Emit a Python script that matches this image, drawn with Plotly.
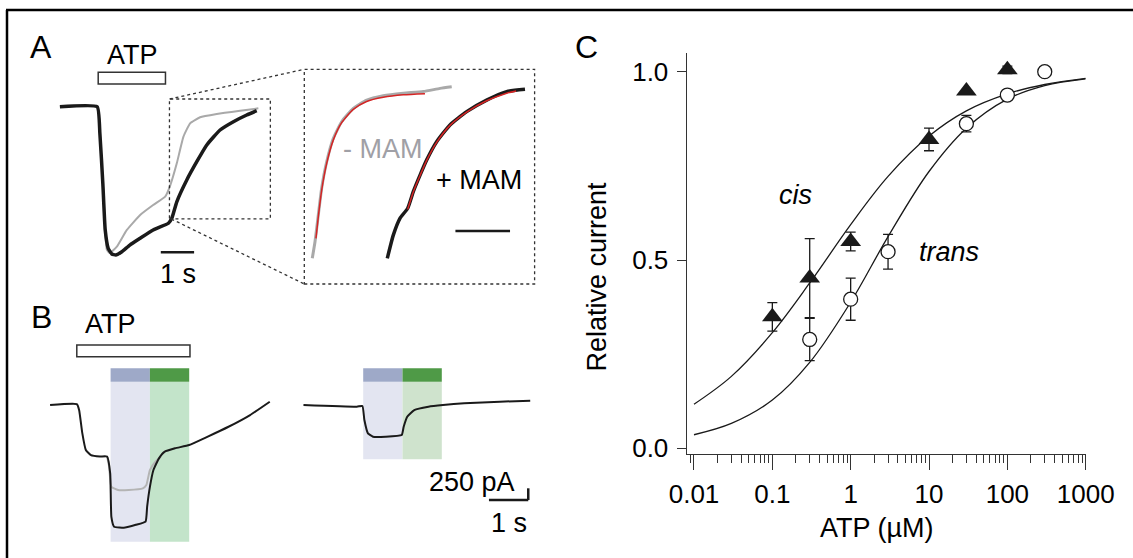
import plotly.graph_objects as go

W, H = 1133, 558
FONT = "Liberation Sans, Arial, Helvetica, sans-serif"

# ---- panel A: whole trace (time in s, current normalised to peak) ----
a_t_mam = [-1.15, -0.03, 0.05, 0.14, 0.21, 0.30, 0.41, 0.53, 0.71, 0.95, 1.26,
           1.65, 2.11, 2.21, 2.36, 2.66, 2.96, 3.26, 3.66, 4.06, 4.46, 4.76]
a_i_mam = [0, 0, -0.18, -0.52, -0.83, -0.955, -0.993, -1.0, -0.978, -0.933, -0.887,
           -0.831, -0.786, -0.753, -0.641, -0.494, -0.371, -0.258, -0.157, -0.101, -0.056, -0.027]
a_t_ctrl = [-1.15, -0.03, 0.05, 0.14, 0.21, 0.26, 0.35, 0.56, 0.86, 1.26, 1.65,
            2.01, 2.15, 2.36, 2.56, 2.76, 3.06, 3.56, 4.26, 4.81]
a_i_ctrl = [0, 0, -0.18, -0.52, -0.83, -0.966, -0.987, -0.944, -0.831, -0.730, -0.663,
            -0.607, -0.539, -0.382, -0.202, -0.112, -0.071, -0.049, -0.027, -0.011]

# ---- panel A inset: deactivation phase with exponential fits ----
i_t_ctrl = [0.073, 0.098, 0.128, 0.159, 0.205, 0.266, 0.342, 0.449, 0.571, 0.723, 0.907, 1.090, 1.243, 1.350]
i_i_ctrl = [-0.758, -0.686, -0.570, -0.453, -0.338, -0.236, -0.164, -0.106, -0.070, -0.051, -0.040, -0.033, -0.019, -0.012]
i_t_fit_ctrl = [0.107, 0.128, 0.159, 0.205, 0.266, 0.342, 0.449, 0.571, 0.723, 0.907, 1.105]
i_i_fit_ctrl = [-0.671, -0.578, -0.462, -0.345, -0.243, -0.168, -0.110, -0.076, -0.058, -0.047, -0.042]
i_t_mam = [0.760, 0.815, 0.876, 0.947, 0.998, 1.060, 1.121, 1.212, 1.334, 1.487, 1.670, 1.853, 2.021]
i_i_mam = [-0.758, -0.657, -0.584, -0.540, -0.468, -0.396, -0.330, -0.251, -0.178, -0.120, -0.070, -0.033, -0.023]
i_t_fit_mam = [0.947, 0.998, 1.060, 1.121, 1.212, 1.334, 1.487, 1.670, 1.853, 1.940]
i_i_fit_mam = [-0.545, -0.470, -0.398, -0.332, -0.254, -0.180, -0.122, -0.073, -0.040, -0.030]

# ---- panel B (time in s, current in pA) ----
b_t_mam = [-0.68, 0, 0.06, 0.14, 0.23, 0.36, 0.59, 0.77, 0.85, 0.88, 0.95, 1.23, 1.50,
           1.75, 1.79, 1.86, 1.95, 2.09, 2.23, 2.50, 2.86, 3.32, 3.86, 4.41, 4.91]
b_i_mam = [0, 20, -110, -600, -960, -1070, -1100, -1100, -1460, -2390, -2600, -2620, -2560,
           -2490, -2170, -1750, -1390, -1140, -1000, -925, -855, -680, -465, -215, 70]
b_t_ctrl = [0.77, 0.82, 0.88, 1.05, 1.32, 1.68, 1.77, 1.86, 2.0, 2.14]
b_i_ctrl = [-1100, -1300, -1750, -1815, -1815, -1780, -1710, -1390, -1210, -1105]
b2_t = [-1.52, -0.16, -0.02, 0.03, 0.12, 0.25, 0.57, 0.98, 1.03, 1.12, 1.30, 1.66, 2.03, 2.57, 3.48, 4.25]
b2_i = [0, -36, -21, -321, -605, -677, -677, -641, -464, -250, -107, -36, 0, 36, 71, 92]
b_windows = [(0.86, 1.86), (1.86, 2.86)]
b2_windows = [(0, 1), (1, 2)]

# ---- panel C: concentration-response ----
cis_x = [0.1, 0.3, 1, 10, 30, 100]
cis_y = [0.349, 0.452, 0.549, 0.820, 0.949, 1.005]
cis_err = [0.038, 0.105, 0.025, 0.030, 0.0, 0.010]
trans_x = [0.3, 1, 3, 30, 100, 300]
trans_y = [0.289, 0.396, 0.522, 0.862, 0.938, 1.0]
trans_err = [0.056, 0.056, 0.046, 0.022, 0.0, 0.0]
fit_x = [0.01, 0.03, 0.1, 0.3, 1, 3, 10, 30, 100, 300, 1000]
cis_fit = [0.117, 0.191, 0.307, 0.439, 0.594, 0.722, 0.829, 0.896, 0.941, 0.966, 0.982]
trans_fit = [0.036, 0.066, 0.128, 0.228, 0.388, 0.562, 0.735, 0.850, 0.927, 0.963, 0.981]


def fx(px):
    return px / W


def fy(py):
    return 1 - py / H


def xr(p0, p1, origin, ppu):
    return [(p0 - origin) / ppu, (p1 - origin) / ppu]


def yr(top, bottom, origin, ppu):
    return [-(bottom - origin) / ppu, -(top - origin) / ppu]


fig = go.Figure()
BLACK, GREY, RED = "#1a1a1a", "#a9a9a9", "#d42424"

# A main
fig.add_trace(go.Scatter(x=a_t_ctrl, y=a_i_ctrl, xaxis="x2", yaxis="y2", mode="lines",
                         line=dict(color=GREY, width=2, shape="spline", smoothing=0.4)))
fig.add_trace(go.Scatter(x=a_t_mam, y=a_i_mam, xaxis="x2", yaxis="y2", mode="lines",
                         line=dict(color=BLACK, width=3.5, shape="spline", smoothing=0.4)))
# A inset
fig.add_trace(go.Scatter(x=i_t_ctrl, y=i_i_ctrl, xaxis="x3", yaxis="y3", mode="lines",
                         line=dict(color=GREY, width=3, shape="spline", smoothing=0.5)))
fig.add_trace(go.Scatter(x=i_t_fit_ctrl, y=i_i_fit_ctrl, xaxis="x3", yaxis="y3", mode="lines",
                         line=dict(color=RED, width=1.5, shape="spline", smoothing=0.6)))
fig.add_trace(go.Scatter(x=i_t_mam, y=i_i_mam, xaxis="x3", yaxis="y3", mode="lines",
                         line=dict(color=BLACK, width=3.5, shape="spline", smoothing=0.5)))
fig.add_trace(go.Scatter(x=i_t_fit_mam, y=i_i_fit_mam, xaxis="x3", yaxis="y3", mode="lines",
                         line=dict(color=RED, width=1.5, shape="spline", smoothing=0.6)))
# B
fig.add_trace(go.Scatter(x=b_t_ctrl, y=b_i_ctrl, xaxis="x4", yaxis="y4", mode="lines",
                         line=dict(color="#b4b4b4", width=2, shape="spline", smoothing=0.4)))
fig.add_trace(go.Scatter(x=b_t_mam, y=b_i_mam, xaxis="x4", yaxis="y4", mode="lines",
                         line=dict(color=BLACK, width=2, shape="spline", smoothing=0.4)))
fig.add_trace(go.Scatter(x=b2_t, y=b2_i, xaxis="x5", yaxis="y5", mode="lines",
                         line=dict(color=BLACK, width=2, shape="spline", smoothing=0.4)))

# C
fig.add_trace(go.Scatter(x=fit_x, y=cis_fit, mode="lines",
                         line=dict(color=BLACK, width=1.3, shape="spline")))
fig.add_trace(go.Scatter(x=fit_x, y=trans_fit, mode="lines",
                         line=dict(color=BLACK, width=1.3, shape="spline")))
fig.add_trace(go.Scatter(x=cis_x, y=cis_y, mode="markers",
                         marker=dict(symbol="triangle-up", size=18, color=BLACK),
                         error_y=dict(type="data", array=cis_err, width=5, thickness=1.3, color=BLACK)))
fig.add_trace(go.Scatter(x=trans_x, y=trans_y, mode="markers",
                         marker=dict(symbol="circle", size=14, color="white",
                                     line=dict(color=BLACK, width=1.3)),
                         error_y=dict(type="data", array=trans_err, width=5, thickness=1.3, color=BLACK)))

hidden = dict(visible=False, fixedrange=True)
tickfont = dict(family=FONT, size=26, color="black")
fig.update_layout(
    width=W, height=H, autosize=False, showlegend=False,
    margin=dict(l=0, r=0, t=0, b=0),
    paper_bgcolor="white", plot_bgcolor="rgba(0,0,0,0)",
    font=dict(family=FONT, size=27, color="black"),
    xaxis=dict(type="log", domain=[fx(686.7), fx(1085.7)], range=[-2.093, 3.0],
               showline=True, linecolor="#333", linewidth=1.3, showgrid=False, zeroline=False,
               ticks="outside", ticklen=15, tickwidth=1.3, tickcolor="#333",
               tickmode="linear", tick0=0, dtick=1, exponentformat="none",
               tickfont=tickfont, ticklabelstandoff=1, automargin=False,
               minor=dict(ticks="outside", ticklen=8, tickwidth=1.3, tickcolor="#333",
                          dtick="D1", showgrid=False),
               anchor="y"),
    yaxis=dict(domain=[fy(454.3), fy(52.7)], range=[-0.0159, 1.0504],
               showline=True, linecolor="#333", linewidth=1.3, showgrid=False, zeroline=False,
               ticks="outside", ticklen=9, tickwidth=1.3, tickcolor="#333",
               tickvals=[0, 0.5, 1.0], tickformat=".1f", tickfont=tickfont,
               ticklabelstandoff=3, automargin=False, anchor="x"),
    xaxis2=dict(domain=[fx(30), fx(300)], range=xr(30, 300, 98.2, 33.3), anchor="y2", **hidden),
    yaxis2=dict(domain=[fy(300), fy(60)], range=yr(60, 300, 106.7, 148.3), anchor="x2", **hidden),
    xaxis3=dict(domain=[fx(300), fx(540)], range=xr(300, 540, 304.3, 109.2), anchor="y3", **hidden),
    yaxis3=dict(domain=[fy(300), fy(60)], range=yr(60, 300, 84, 230), anchor="x3", **hidden),
    xaxis4=dict(domain=[fx(40), fx(300)], range=xr(40, 300, 76.8, 39.3), anchor="y4", **hidden),
    yaxis4=dict(domain=[fy(550), fy(360)], range=yr(360, 550, 405, 0.0468), anchor="x4", **hidden),
    xaxis5=dict(domain=[fx(290), fx(545)], range=xr(290, 545, 363.2, 39.3), anchor="y5", **hidden),
    yaxis5=dict(domain=[fy(550), fy(360)], range=yr(360, 550, 405, 0.0468), anchor="x5", **hidden),
)

shapes = []
# frame (top and left rules)
shapes.append(dict(type="line", xref="paper", yref="paper", x0=fx(6), x1=1, y0=fy(10), y1=fy(10),
                   line=dict(color="black", width=2.5)))
shapes.append(dict(type="line", xref="paper", yref="paper", x0=fx(7), x1=fx(7), y0=fy(10), y1=0,
                   line=dict(color="black", width=2.5)))

# B colour windows (drawn below traces)
for (w0, w1), top, pale in zip(b_windows, ["#9ea9c8", "#4f9a47"], ["#e3e5f1", "#c3e4ca"]):
    shapes.append(dict(type="rect", xref="x4", yref="y4", x0=w0, x1=w1, y0=-2921, y1=498,
                       fillcolor=pale, line=dict(width=0), layer="below"))
    shapes.append(dict(type="rect", xref="x4", yref="y4", x0=w0, x1=w1, y0=498, y1=784,
                       fillcolor=top, line=dict(width=0), layer="below"))
for (w0, w1), top, pale in zip(b2_windows, ["#9ea9c8", "#4f9a47"], ["#e3e5f1", "#cfe3cd"]):
    shapes.append(dict(type="rect", xref="x5", yref="y5", x0=w0, x1=w1, y0=-1160, y1=498,
                       fillcolor=pale, line=dict(width=0), layer="below"))
    shapes.append(dict(type="rect", xref="x5", yref="y5", x0=w0, x1=w1, y0=498, y1=784,
                       fillcolor=top, line=dict(width=0), layer="below"))

# ATP application bars
shapes.append(dict(type="rect", xref="x2", yref="paper", x0=0, x1=2.02, y0=fy(84), y1=fy(72.3),
                   line=dict(color="#333", width=1.5), fillcolor="white"))
shapes.append(dict(type="rect", xref="x4", yref="paper", x0=0, x1=2.88, y0=fy(356.7), y1=fy(345),
                   line=dict(color="#333", width=1.5), fillcolor="white"))

# zoom boxes in A
dot = dict(color="#333", width=1.3, dash="dot")
shapes.append(dict(type="rect", xref="x2", yref="y2", x0=2.14, x1=5.17, y0=-0.757, y1=0.052, line=dot))
shapes.append(dict(type="rect", xref="x3", yref="y3", x0=0, x1=2.109, y0=-0.8696, y1=0.0639, line=dot))
shapes.append(dict(type="line", xref="paper", yref="paper", x0=fx(169.6), y0=fy(99), x1=fx(304.3), y1=fy(69.3), line=dot))
shapes.append(dict(type="line", xref="paper", yref="paper", x0=fx(171.4), y0=fy(219), x1=fx(304.3), y1=fy(284), line=dot))

# scale bars
bar = dict(color=BLACK, width=2.5)
shapes.append(dict(type="line", xref="x2", yref="y2", x0=1.88, x1=2.88, y0=-0.982, y1=-0.982, line=bar))
shapes.append(dict(type="line", xref="x3", yref="y3", x0=1.384, x1=1.884, y0=-0.639, y1=-0.639, line=bar))
shapes.append(dict(type="line", xref="x5", yref="y5", x0=3.2, x1=4.2, y0=-2030, y1=-2030, line=bar))
shapes.append(dict(type="line", xref="x5", yref="y5", x0=4.2, x1=4.2, y0=-2030, y1=-1780, line=bar))
fig.update_layout(shapes=shapes)


def label(text, px, py, size=27, color="black", italic=False, angle=0):
    if italic:
        text = "<i>" + text + "</i>"
    fig.add_annotation(text=text, x=fx(px), y=fy(py), xref="paper", yref="paper",
                       xanchor="center", yanchor="middle", showarrow=False, textangle=angle,
                       font=dict(family=FONT, size=size, color=color))


label("A", 41, 46.7, 32)
label("ATP", 132.9, 55)
label("1 s", 177.7, 274)
label("- MAM", 382.5, 149, color="#a0a0a6")
label("+ MAM", 478.6, 180)
label("B", 41, 316.7, 32)
label("ATP", 110.2, 324)
label("250 pA", 472.3, 481.7)
label("1 s", 508.9, 523.3)
label("C", 586.7, 46.7, 32)
label("cis", 795.7, 195, italic=True)
label("trans", 949, 251.7, italic=True)
label("Relative current", 596.5, 277, angle=-90)
label("ATP (µM)", 877, 528.3)

# page has default body margins; drop them so the figure sits at the window origin
fig.write_html("out.html", config={"displayModeBar": False},
               post_script="document.body.style.margin='0';document.body.style.overflow='hidden';")
